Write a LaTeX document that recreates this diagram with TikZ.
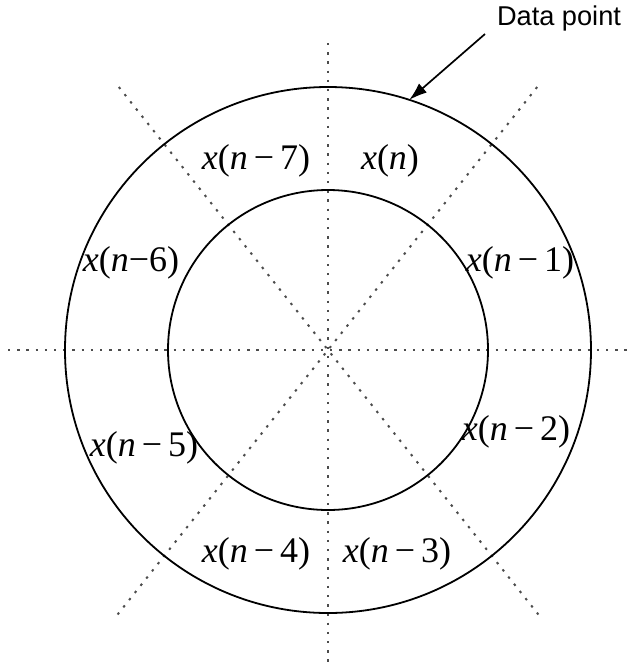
\documentclass[tikz,border=0pt]{standalone}
\usepackage{fontspec}
\newfontfamily\dpfont{Liberation Sans}
\newfontfamily\smpfont{Liberation Serif}
\usetikzlibrary{arrows.meta,calc}
\newcommand{\smp}[1]{\textit{x}(\textit{n}#1)}

\begin{document}
\begin{tikzpicture}[x=0.5pt, y=-0.5pt,
  font=\smpfont\fontsize{18}{20}\selectfont,
  ring/.style={draw, circle, line width=0.9pt, inner sep=0pt, outer sep=0pt},
  grid/.style={line width=1pt, black!70, dash pattern=on 1.2pt off 3.4pt},
  arrow/.style={-{Latex[length=9pt,width=6pt]}, line width=0.85pt}]
\useasboundingbox (0,0) rectangle (631,670);
\coordinate (c) at (328,350);
% dotted guide lines
\draw[grid] (8,350) -- (631,350);
\draw[grid] (328,43) -- (328,667);
\draw[grid] ($(c)+(51.5:338)$) -- ($(c)+(231.5:338)$);
\draw[grid] ($(c)+(128.5:338)$) -- ($(c)+(308.5:338)$);
% rings
\node[ring, minimum size=263pt] (outer) at (c) {};
\node[ring, minimum size=160pt] (inner) at (c) {};
% samples
\node (xn)  at (390,161) {\smp{}};
\node (xn1) at (520,263) {\smp{\,−\,1}};
\node (xn2) at (516,432) {\smp{\,−\,2}};
\node (xn3) at (397,554) {\smp{\,−\,3}};
\node (xn4) at (256,554) {\smp{\,−\,4}};
\node (xn5) at (144,448) {\smp{\,−\,5}};
\node (xn6) at (131,263) {\smp{−6}};
\node (xn7) at (256,161) {\smp{\,−\,7}};
% label
\node[font=\dpfont\fontsize{13.6}{15}\selectfont] (dp) at (559,18) {Data point};
\coordinate (tail) at (485,34);
\draw[arrow] (tail) -- (outer.72);
\end{tikzpicture}
\end{document}
